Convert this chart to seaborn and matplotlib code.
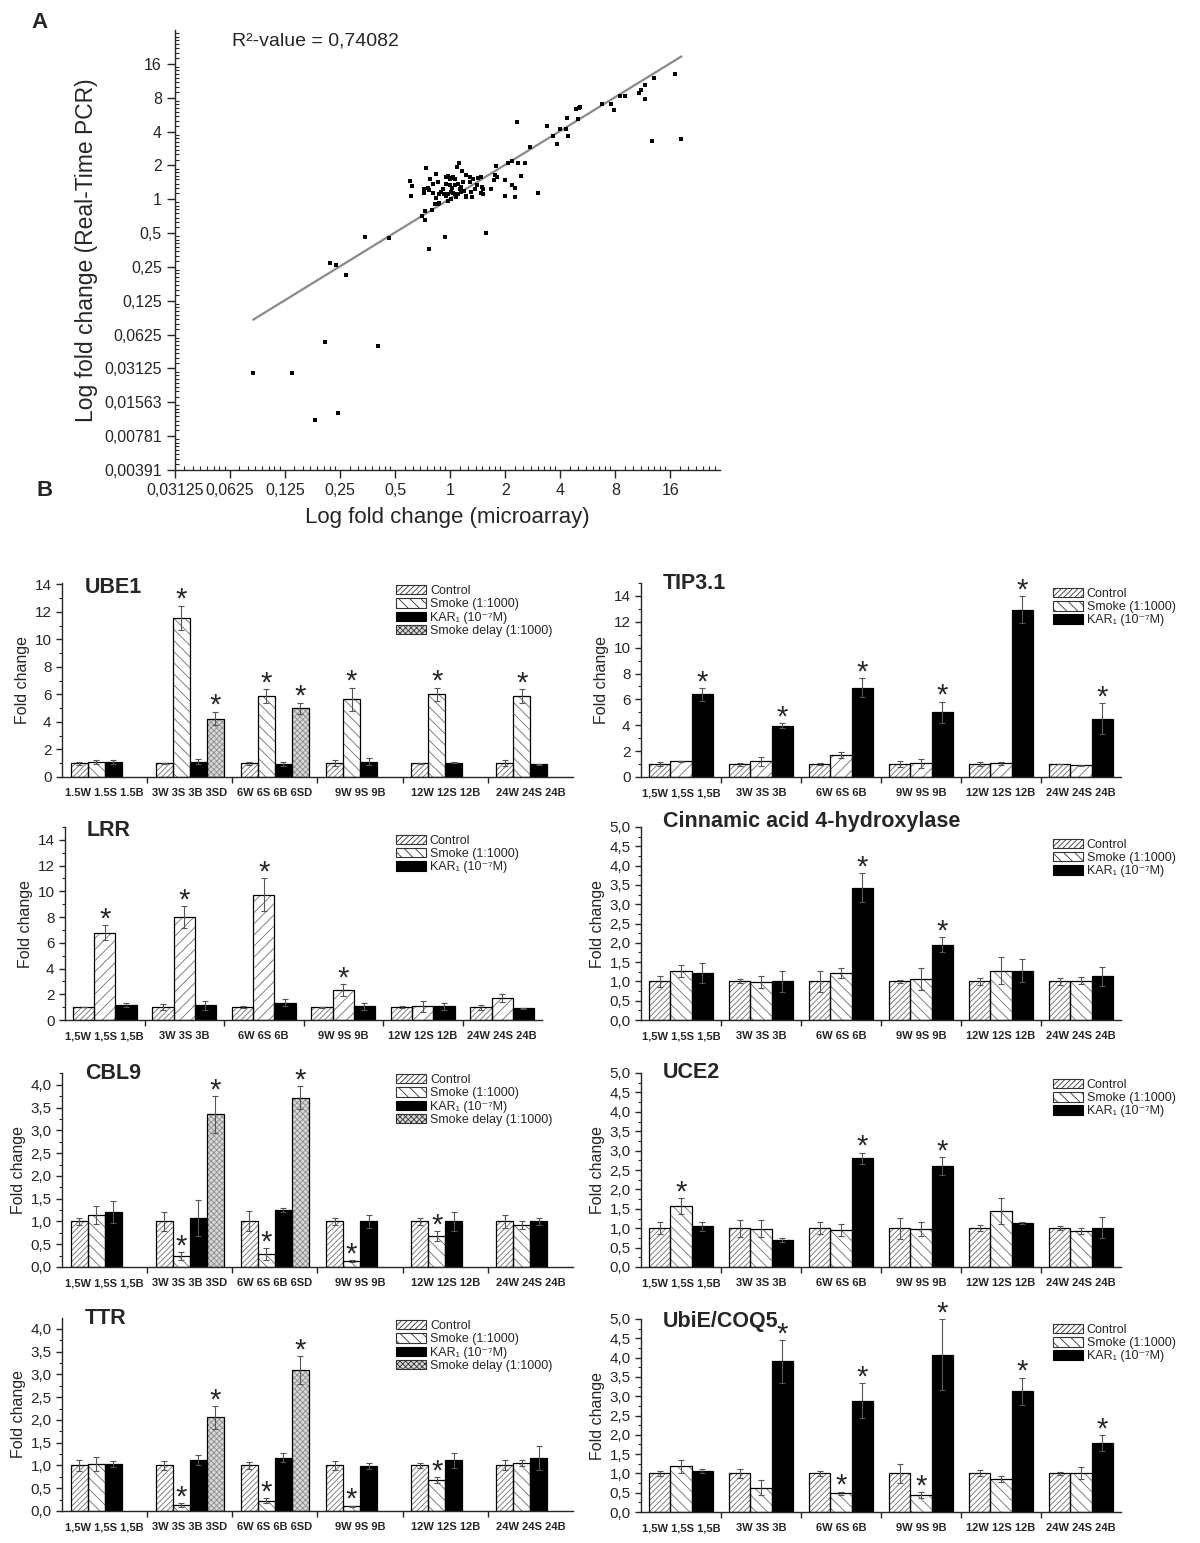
import numpy as np
import pandas as pd
import seaborn as sns
import matplotlib.pyplot as plt
from matplotlib.container import BarContainer
from matplotlib.patches import Patch, Rectangle
from matplotlib.ticker import FixedLocator, FuncFormatter, LogLocator, NullFormatter, MultipleLocator

# ---------------- Panel A: log2 fold change, microarray vs real-time PCR ----------------
micro_log2 = [
    -3.58, -2.87, -2.28, -1.31, -2.46, -2.04, -2.19, -2.08, -1.90, -1.54, -1.12, -0.39, -0.10, 0.65,
    1.21, 1.87, 2.29, 2.33, 2.35, 2.75, 2.92, 2.98, 3.08, 3.18, 3.42, 3.46, 3.53, 3.53, 3.70, 4.08, 3.67, 4.20,
    -0.73, -0.69, -0.72, -0.44, -0.36, -0.47, -0.48, -0.38, -0.32, -0.26, -0.26, -0.28, -0.23,
    -0.07, -0.04, -0.01, 0.02, 0.05, 0.08, 0.13, 0.16, 0.22, 0.29, 0.36, 0.42, 0.51, 0.56,
    -0.07, -0.01, 0.03, 0.08, 0.14, 0.20, -0.17, -0.12, -0.07, -0.04, 0.01, 0.05, 0.09, 0.14,
    0.19, 0.25, 0.29, 0.37, 0.40, 0.29, 0.48, 0.57, 0.60, 0.55, 0.60, 0.74, 0.79, 0.82, 0.83,
    0.85, 0.99, 1.05, 1.13, 1.23, 1.36, 1.28, 1.13, 1.18, 1.00, 1.17, 1.60, 1.44, 1.76, 1.99,
    2.10, 2.12, 2.32, 1.93, 2.14, -0.52, -0.45, -0.45, -0.33, -0.04, -0.14, -0.23, -0.32, -0.41,
    -0.20, 0.36, 0.45, 0.23, 0.17, 0.11, 0.02, -0.20,
]
pcr_log2 = [
    -5.12, -5.12, -4.21, -4.33, -6.53, -6.32, -1.88, -1.94, -2.23, -1.13, -1.15, -1.46, -1.11, -1.01,
    2.27, 1.86, 2.66, 2.70, 2.73, 2.80, 2.80, 2.63, 3.04, 3.04, 3.14, 3.22, 3.38, 2.97, 3.59, 3.71, 1.73, 1.77,
    0.53, 0.38, 0.10, 0.91, 0.61, 0.29, 0.19, 0.26, 0.19, 0.76, 0.03, -0.14, -0.14,
    0.66, 0.68, 0.60, 0.64, 0.66, 0.61, 0.96, 1.06, 0.84, 0.71, 0.66, 0.61, 0.64, 0.66,
    0.46, 0.41, 0.34, 0.41, 0.44, 0.36, 0.21, 0.16, 0.11, 0.16, 0.21, 0.18, 0.16, 0.14,
    0.21, 0.24, 0.11, 0.21, 0.06, 0.06, 0.41, 0.36, 0.31, 0.18, 0.16, 0.31, 0.58, 0.71, 0.98,
    0.66, 0.56, 1.06, 1.14, 1.08, 1.06, 0.68, 0.41, 0.34, 0.09, 0.06, 0.18, 1.53, 2.16, 2.08,
    2.08, 2.41, 2.36, 1.63, 1.88, -0.49, -0.34, -0.60, -0.31, -0.04, 0.31, 0.51, 0.44, 0.34,
    0.16, 0.51, 0.31, 0.51, 0.31, 0.06, 0.01, -0.12,
]
fit_slope = 1.0
fit_intercept = 0.02
r2_text = "R²-value = 0,74082"
scatter_x_ticks = ["0,03125", "0,0625", "0,125", "0,25", "0,5", "1", "2", "4", "8", "16"]
scatter_y_ticks = ["0,00391", "0,00781", "0,01563", "0,03125", "0,0625", "0,125", "0,25",
                   "0,5", "1", "2", "4", "8", "16"]

# ---------------- Panel B: fold change bar charts ----------------
nan = np.nan
series_names = ["Control", "Smoke (1:1000)", "KAR₁ (10⁻⁷M)", "Smoke delay (1:1000)"]

labels_4a = ["1.5W 1.5S 1.5B", "3W 3S 3B 3SD", "6W 6S 6B 6SD", "9W 9S 9B", "12W 12S 12B", "24W 24S 24B"]
labels_4b = ["1,5W 1,5S 1,5B", "3W 3S 3B 3SD", "6W 6S 6B 6SD", "9W 9S 9B", "12W 12S 12B", "24W 24S 24B"]
labels_3 = ["1,5W 1,5S 1,5B", "3W 3S 3B", "6W 6S 6B", "9W 9S 9B", "12W 12S 12B", "24W 24S 24B"]

ube1_ctrl = [1.0, 1.0, 1.0, 1.0, 1.0, 1.0]
ube1_ctrl_err = [0.12, 0.05, 0.1, 0.2, 0.05, 0.2]
ube1_smoke = [1.1, 11.55, 5.9, 5.65, 6.0, 5.9]
ube1_smoke_err = [0.15, 0.9, 0.5, 0.85, 0.5, 0.5]
ube1_kar = [1.12, 1.12, 0.95, 1.1, 1.05, 0.93]
ube1_kar_err = [0.15, 0.2, 0.15, 0.25, 0.05, 0.05]
ube1_delay = [nan, 4.25, 5.0, nan, nan, nan]
ube1_delay_err = [nan, 0.5, 0.4, nan, nan, nan]
ube1_stars = [(1, 1), (1, 3), (2, 1), (2, 3), (3, 1), (4, 1), (5, 1)]

tip_ctrl = [1.0, 1.0, 1.0, 1.0, 1.0, 1.0]
tip_ctrl_err = [0.15, 0.12, 0.1, 0.2, 0.15, 0.02]
tip_smoke = [1.22, 1.22, 1.7, 1.05, 1.05, 0.9]
tip_smoke_err = [0.05, 0.35, 0.2, 0.35, 0.1, 0.02]
tip_kar = [6.4, 3.95, 6.9, 5.0, 12.95, 4.5]
tip_kar_err = [0.5, 0.2, 0.75, 0.83, 1.05, 1.2]
tip_stars = [(0, 2), (1, 2), (2, 2), (3, 2), (4, 2), (5, 2)]

lrr_ctrl = [1.0, 1.0, 1.0, 1.0, 1.0, 1.0]
lrr_ctrl_err = [0.02, 0.25, 0.07, 0.03, 0.05, 0.2]
lrr_smoke = [6.8, 8.0, 9.75, 2.3, 1.05, 1.7]
lrr_smoke_err = [0.56, 0.86, 1.25, 0.47, 0.45, 0.3]
lrr_kar = [1.15, 1.15, 1.35, 1.05, 1.05, 0.9]
lrr_kar_err = [0.15, 0.35, 0.25, 0.3, 0.3, 0.05]
lrr_stars = [(0, 1), (1, 1), (2, 1), (3, 1)]

c4h_ctrl = [1.0, 1.0, 1.0, 1.0, 1.0, 1.0]
c4h_ctrl_err = [0.15, 0.05, 0.28, 0.03, 0.1, 0.1]
c4h_smoke = [1.27, 0.98, 1.23, 1.07, 1.27, 1.02]
c4h_smoke_err = [0.15, 0.15, 0.13, 0.28, 0.35, 0.1]
c4h_kar = [1.22, 1.0, 3.43, 1.95, 1.28, 1.13]
c4h_kar_err = [0.25, 0.28, 0.38, 0.2, 0.3, 0.25]
c4h_stars = [(2, 2), (3, 2)]

cbl9_ctrl = [1.0, 1.0, 1.0, 1.0, 1.0, 1.0]
cbl9_ctrl_err = [0.07, 0.2, 0.22, 0.07, 0.07, 0.14]
cbl9_smoke = [1.15, 0.24, 0.28, 0.13, 0.68, 0.92]
cbl9_smoke_err = [0.2, 0.08, 0.13, 0.02, 0.1, 0.08]
cbl9_kar = [1.2, 1.07, 1.25, 1.0, 1.0, 1.0]
cbl9_kar_err = [0.24, 0.4, 0.05, 0.14, 0.2, 0.07]
cbl9_delay = [nan, 3.35, 3.72, nan, nan, nan]
cbl9_delay_err = [nan, 0.4, 0.25, nan, nan, nan]
cbl9_stars = [(1, 1), (1, 3), (2, 1), (2, 3), (3, 1), (4, 1)]

uce2_ctrl = [1.0, 1.0, 1.0, 1.0, 1.0, 1.0]
uce2_ctrl_err = [0.15, 0.22, 0.15, 0.27, 0.08, 0.05]
uce2_smoke = [1.57, 0.99, 0.96, 0.98, 1.45, 0.93]
uce2_smoke_err = [0.2, 0.22, 0.15, 0.18, 0.33, 0.07]
uce2_kar = [1.05, 0.7, 2.8, 2.6, 1.13, 1.01]
uce2_kar_err = [0.12, 0.05, 0.15, 0.24, 0.02, 0.27]
uce2_stars = [(0, 1), (2, 2), (3, 2)]

ttr_ctrl = [1.0, 1.0, 1.0, 1.0, 1.0, 1.0]
ttr_ctrl_err = [0.13, 0.1, 0.07, 0.1, 0.05, 0.11]
ttr_smoke = [1.03, 0.13, 0.23, 0.1, 0.68, 1.05]
ttr_smoke_err = [0.16, 0.05, 0.06, 0.02, 0.06, 0.06]
ttr_kar = [1.03, 1.12, 1.17, 0.99, 1.11, 1.16]
ttr_kar_err = [0.07, 0.1, 0.1, 0.07, 0.17, 0.27]
ttr_delay = [nan, 2.06, 3.1, nan, nan, nan]
ttr_delay_err = [nan, 0.25, 0.31, nan, nan, nan]
ttr_stars = [(1, 1), (1, 3), (2, 1), (2, 3), (3, 1), (4, 1)]

ubie_ctrl = [1.0, 1.0, 1.0, 1.0, 1.0, 1.0]
ubie_ctrl_err = [0.06, 0.12, 0.06, 0.25, 0.08, 0.04]
ubie_smoke = [1.18, 0.63, 0.48, 0.44, 0.86, 1.01]
ubie_smoke_err = [0.18, 0.2, 0.05, 0.07, 0.07, 0.16]
ubie_kar = [1.06, 3.9, 2.88, 4.08, 3.13, 1.79]
ubie_kar_err = [0.06, 0.55, 0.45, 0.92, 0.35, 0.2]
ubie_stars = [(1, 2), (2, 1), (2, 2), (3, 1), (3, 2), (4, 2), (5, 2)]

# ---------------- style ----------------
sns.set_style("ticks")
plt.rcParams["font.family"] = ["Liberation Sans", "DejaVu Sans"]
plt.rcParams["hatch.linewidth"] = 0.6
plt.rcParams["axes.linewidth"] = 1.0

HATCH_GREY = "#6e6e6e"
fig = plt.figure(figsize=(12, 15.43), dpi=100)


def px_axes(left, top, right, bottom):
    W, H = 1200, 1543
    return fig.add_axes([left / W, 1 - bottom / H, (right - left) / W, (bottom - top) / H])


# ---------------- Panel A ----------------
axA = px_axes(175, 30, 720, 470)
mx = 2.0 ** np.array(micro_log2)
my = 2.0 ** np.array(pcr_log2)
sns.scatterplot(x=mx, y=my, ax=axA, marker="s", s=8, color="black", linewidth=0, zorder=3)
fx = np.array([min(micro_log2), max(micro_log2)])
axA.plot(2.0 ** fx, 2.0 ** (fit_slope * fx + fit_intercept), color="#8a8a8a", lw=1.6, zorder=2)
axA.set_xscale("log", base=2)
axA.set_yscale("log", base=2)
axA.set_xlim(2.0 ** -5, 2.0 ** 4.9)
axA.set_ylim(2.0 ** -8, 2.0 ** 5)
axA.xaxis.set_major_locator(FixedLocator(2.0 ** np.arange(-5, 5)))
axA.yaxis.set_major_locator(FixedLocator(2.0 ** np.arange(-8, 5)))
axA.set_xticklabels(scatter_x_ticks)
axA.set_yticklabels(scatter_y_ticks)
sub = np.linspace(1, 2, 9)[1:-1]
axA.xaxis.set_minor_locator(LogLocator(base=2, subs=sub, numticks=40))
axA.yaxis.set_minor_locator(LogLocator(base=2, subs=sub, numticks=40))
axA.xaxis.set_minor_formatter(NullFormatter())
axA.yaxis.set_minor_formatter(NullFormatter())
axA.tick_params(which="major", direction="out", length=6, width=1, labelsize=11.5)
axA.tick_params(which="minor", direction="in", length=3, width=0.8)
sns.despine(ax=axA)
axA.set_xlabel("Log fold change (microarray)", fontsize=16, labelpad=6)
axA.set_ylabel("Log fold change (Real-Time PCR)", fontsize=16.5, labelpad=4)
axA.text(0.105, 0.975, r2_text, transform=axA.transAxes, fontsize=14, ha="left", va="center")

fig.text(40 / 1200, 1 - 22 / 1543, "A", fontsize=16, fontweight="bold", ha="center", va="center")
fig.text(45 / 1200, 1 - 490 / 1543, "B", fontsize=16, fontweight="bold", ha="center", va="center")

# ---------------- Panel B ----------------
styles = [
    dict(face="white", hatch="//////", hc=HATCH_GREY),
    dict(face="white", hatch="\\\\\\", hc=HATCH_GREY),
    dict(face="black", hatch=None, hc="black"),
    dict(face="#d9d9d9", hatch="xxxxxx", hc="#8c8c8c"),
]


def bar_chart(ax, title, labels, values, errors, stars, ymax, ystep, smoke_hatch,
              title_y, leg_x, leg_y):
    n = len(values)
    rows = []
    for s in range(n):
        for g in range(len(labels)):
            if not np.isnan(values[s][g]):
                rows.append(dict(group=labels[g], series=series_names[s], value=values[s][g]))
    df = pd.DataFrame(rows)
    sns.barplot(data=df, x="group", y="value", hue="series", order=labels,
                hue_order=series_names[:n], width=0.8, errorbar=None, legend=False,
                saturation=1, ax=ax)
    st = [dict(d) for d in styles[:n]]
    st[1]["hatch"] = smoke_hatch
    bar_conts = [c for c in ax.containers if isinstance(c, BarContainer)]
    for s, cont in enumerate(bar_conts):
        for p in list(cont.patches):
            cx = p.get_x() + p.get_width() / 2
            g = int(round(cx))
            p.set_facecolor(st[s]["face"])
            p.set_edgecolor(st[s]["hc"])
            p.set_hatch(st[s]["hatch"])
            p.set_linewidth(0)
            ax.add_patch(Rectangle(p.get_xy(), p.get_width(), p.get_height(), fill=False,
                                   ec="black", lw=0.9, zorder=p.get_zorder() + 0.1))
            top = values[s][g]
            err = errors[s][g]
            ax.errorbar(cx, top, yerr=err, fmt="none", ecolor="#555555", elinewidth=0.8,
                        capsize=2.2, capthick=0.8, zorder=4)
            if (g, s) in stars:
                ax.annotate("*", (cx, top + err), xytext=(0, -6), textcoords="offset points",
                            ha="center", va="bottom", fontsize=21, annotation_clip=False)
    ax.set_xlim(-0.5, len(labels) - 0.5)
    ax.set_ylim(0, ymax)
    ax.set_xticks(range(len(labels)))
    ax.set_xticklabels(labels, fontsize=8, fontweight="bold")
    ax.set_xticks(np.arange(0.5, len(labels) - 1), minor=True)
    ax.tick_params(axis="x", which="major", length=0, pad=8)
    ax.tick_params(axis="x", which="minor", direction="out", length=4, width=1)
    ax.yaxis.set_major_locator(MultipleLocator(ystep))
    ax.yaxis.set_minor_locator(MultipleLocator(ystep / 2))
    if ystep < 1:
        ax.yaxis.set_major_formatter(FuncFormatter(lambda v, _: f"{v:.1f}".replace(".", ",")))
    else:
        ax.yaxis.set_major_formatter(FuncFormatter(lambda v, _: f"{v:.0f}"))
    ax.tick_params(axis="y", which="major", direction="out", length=4, width=1, labelsize=11)
    ax.tick_params(axis="y", which="minor", direction="out", length=2.5, width=0.8)
    ax.set_xlabel("")
    ax.set_ylabel("Fold change", fontsize=11.5, labelpad=3)
    sns.despine(ax=ax)
    ax.text(0.045, title_y, title, transform=ax.transAxes, fontsize=15.5, fontweight="bold",
            ha="left", va="center")
    handles = []
    for s in range(n):
        handles.append(Patch(facecolor=st[s]["face"], edgecolor="#333333" if s != 2 else "black",
                             hatch=styles[s]["hatch"], lw=0.8, label=series_names[s]))
    ax.legend(handles=handles, loc="upper left", bbox_to_anchor=(leg_x, leg_y), frameon=False,
              fontsize=9, handlelength=2.4, handleheight=0.78, handletextpad=0.3,
              labelspacing=0.1, borderpad=0, borderaxespad=0)


ax = px_axes(62, 583, 573, 777)
bar_chart(ax, "UBE1", labels_4a,
          [ube1_ctrl, ube1_smoke, ube1_kar, ube1_delay],
          [ube1_ctrl_err, ube1_smoke_err, ube1_kar_err, ube1_delay_err],
          ube1_stars, 14.1, 2, "\\\\\\", 0.975, 0.654, 0.99)

ax = px_axes(641, 583, 1121, 777)
bar_chart(ax, "TIP3.1", labels_3,
          [tip_ctrl, tip_smoke, tip_kar], [tip_ctrl_err, tip_smoke_err, tip_kar_err],
          tip_stars, 15, 2, "///", 0.995, 0.858, 0.975)

ax = px_axes(65, 827, 542, 1020)
bar_chart(ax, "LRR", labels_3,
          [lrr_ctrl, lrr_smoke, lrr_kar], [lrr_ctrl_err, lrr_smoke_err, lrr_kar_err],
          lrr_stars, 15, 2, "///", 0.98, 0.694, 0.96)

ax = px_axes(641, 827, 1121, 1020)
bar_chart(ax, "Cinnamic acid 4-hydroxylase", labels_3,
          [c4h_ctrl, c4h_smoke, c4h_kar], [c4h_ctrl_err, c4h_smoke_err, c4h_kar_err],
          c4h_stars, 5, 0.5, "\\\\\\", 1.03, 0.858, 0.94)

ax = px_axes(62, 1073, 573, 1267)
bar_chart(ax, "CBL9", labels_4b,
          [cbl9_ctrl, cbl9_smoke, cbl9_kar, cbl9_delay],
          [cbl9_ctrl_err, cbl9_smoke_err, cbl9_kar_err, cbl9_delay_err],
          cbl9_stars, 4.26, 0.5, "\\\\\\", 0.995, 0.654, 0.995)

ax = px_axes(641, 1073, 1121, 1267)
bar_chart(ax, "UCE2", labels_3,
          [uce2_ctrl, uce2_smoke, uce2_kar], [uce2_ctrl_err, uce2_smoke_err, uce2_kar_err],
          uce2_stars, 5, 0.5, "\\\\\\", 1.0, 0.858, 0.97)

ax = px_axes(62, 1318, 573, 1511)
bar_chart(ax, "TTR", labels_4b,
          [ttr_ctrl, ttr_smoke, ttr_kar, ttr_delay],
          [ttr_ctrl_err, ttr_smoke_err, ttr_kar_err, ttr_delay_err],
          ttr_stars, 4.24, 0.5, "\\\\\\", 0.995, 0.654, 0.99)

ax = px_axes(641, 1319, 1121, 1512)
bar_chart(ax, "UbiE/COQ5", labels_3,
          [ubie_ctrl, ubie_smoke, ubie_kar], [ubie_ctrl_err, ubie_smoke_err, ubie_kar_err],
          ubie_stars, 5, 0.5, "\\\\\\", 0.985, 0.858, 0.975)

fig.savefig("out.png", dpi=100, facecolor="white")
